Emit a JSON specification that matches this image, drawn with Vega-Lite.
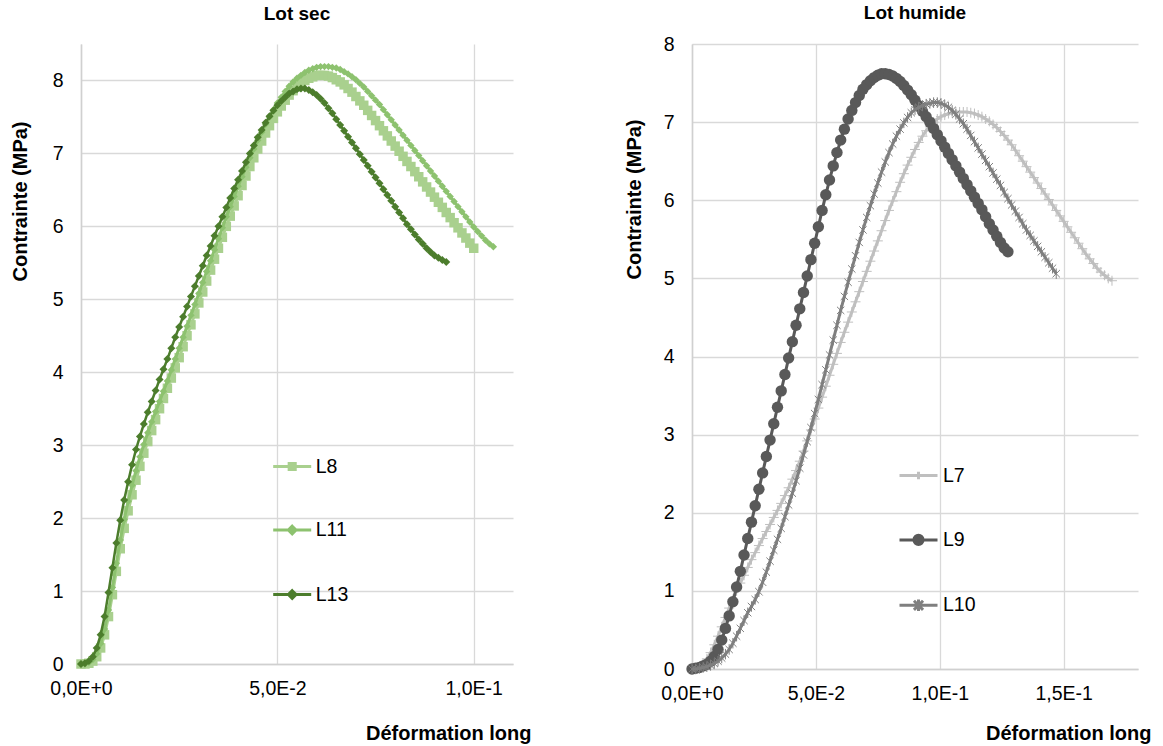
{
"$schema": "https://vega.github.io/schema/vega-lite/v6.json",
"background": "white",
"padding": {"left": 10, "top": 4, "right": 5, "bottom": 5},
"config": {
  "font": "Liberation Sans",
  "view": {"stroke": null},
  "axis": {"labelFont": "Liberation Sans", "labelFontSize": 19.5, "labelColor": "#000000", "titleFont": "Liberation Sans", "titleFontSize": 20, "titleFontWeight": "bold", "titleColor": "#000000", "gridColor": "#D9D9D9", "gridWidth": 1.3, "domainColor": "#D0D0D0", "domainWidth": 1.5, "ticks": false, "labelFlush": false},
  "title": {"font": "Liberation Sans", "fontSize": 19, "fontWeight": "bold", "color": "#000000", "anchor": "middle"},
  "concat": {"spacing": 93}
},
"resolve": {"scale": {"color": "independent"}},
"datasets": {
"L8": [{"x":0,"y":0},{"x":0.001,"y":0},{"x":0.002,"y":0.01},{"x":0.003,"y":0.04},{"x":0.004,"y":0.1},{"x":0.005,"y":0.22},{"x":0.006,"y":0.4},{"x":0.007,"y":0.65},{"x":0.008,"y":0.95},{"x":0.009,"y":1.27},{"x":0.01,"y":1.58},{"x":0.011,"y":1.86},{"x":0.012,"y":2.1},{"x":0.013,"y":2.32},{"x":0.014,"y":2.52},{"x":0.015,"y":2.71},{"x":0.016,"y":2.89},{"x":0.017,"y":3.05},{"x":0.018,"y":3.2},{"x":0.019,"y":3.35},{"x":0.02,"y":3.5},{"x":0.021,"y":3.64},{"x":0.022,"y":3.78},{"x":0.023,"y":3.92},{"x":0.024,"y":4.06},{"x":0.025,"y":4.2},{"x":0.026,"y":4.35},{"x":0.027,"y":4.5},{"x":0.028,"y":4.65},{"x":0.029,"y":4.8},{"x":0.03,"y":4.95},{"x":0.031,"y":5.1},{"x":0.032,"y":5.25},{"x":0.033,"y":5.4},{"x":0.034,"y":5.55},{"x":0.035,"y":5.7},{"x":0.036,"y":5.85},{"x":0.037,"y":6.0},{"x":0.038,"y":6.14},{"x":0.039,"y":6.28},{"x":0.04,"y":6.42},{"x":0.041,"y":6.56},{"x":0.042,"y":6.69},{"x":0.043,"y":6.82},{"x":0.044,"y":6.94},{"x":0.045,"y":7.06},{"x":0.046,"y":7.17},{"x":0.047,"y":7.28},{"x":0.048,"y":7.38},{"x":0.049,"y":7.48},{"x":0.05,"y":7.57},{"x":0.051,"y":7.65},{"x":0.052,"y":7.73},{"x":0.053,"y":7.8},{"x":0.054,"y":7.86},{"x":0.055,"y":7.91},{"x":0.056,"y":7.96},{"x":0.057,"y":8.0},{"x":0.058,"y":8.03},{"x":0.059,"y":8.05},{"x":0.06,"y":8.07},{"x":0.061,"y":8.07},{"x":0.062,"y":8.07},{"x":0.063,"y":8.06},{"x":0.064,"y":8.04},{"x":0.065,"y":8.01},{"x":0.066,"y":7.98},{"x":0.067,"y":7.94},{"x":0.068,"y":7.89},{"x":0.069,"y":7.84},{"x":0.07,"y":7.78},{"x":0.071,"y":7.72},{"x":0.072,"y":7.66},{"x":0.073,"y":7.59},{"x":0.074,"y":7.52},{"x":0.075,"y":7.45},{"x":0.076,"y":7.38},{"x":0.077,"y":7.31},{"x":0.078,"y":7.24},{"x":0.079,"y":7.17},{"x":0.08,"y":7.1},{"x":0.081,"y":7.03},{"x":0.082,"y":6.96},{"x":0.083,"y":6.89},{"x":0.084,"y":6.82},{"x":0.085,"y":6.75},{"x":0.086,"y":6.68},{"x":0.087,"y":6.61},{"x":0.088,"y":6.54},{"x":0.089,"y":6.47},{"x":0.09,"y":6.4},{"x":0.091,"y":6.33},{"x":0.092,"y":6.26},{"x":0.093,"y":6.19},{"x":0.094,"y":6.12},{"x":0.095,"y":6.05},{"x":0.096,"y":5.98},{"x":0.097,"y":5.91},{"x":0.098,"y":5.84},{"x":0.099,"y":5.77},{"x":0.1,"y":5.7}],
"L11": [{"x":0,"y":0},{"x":0.001,"y":0},{"x":0.002,"y":0.02},{"x":0.003,"y":0.06},{"x":0.004,"y":0.14},{"x":0.005,"y":0.28},{"x":0.006,"y":0.48},{"x":0.007,"y":0.74},{"x":0.008,"y":1.05},{"x":0.009,"y":1.38},{"x":0.01,"y":1.7},{"x":0.011,"y":1.98},{"x":0.012,"y":2.23},{"x":0.013,"y":2.45},{"x":0.014,"y":2.65},{"x":0.015,"y":2.84},{"x":0.016,"y":3.01},{"x":0.017,"y":3.17},{"x":0.018,"y":3.32},{"x":0.019,"y":3.46},{"x":0.02,"y":3.6},{"x":0.021,"y":3.74},{"x":0.022,"y":3.88},{"x":0.023,"y":4.03},{"x":0.024,"y":4.18},{"x":0.025,"y":4.33},{"x":0.026,"y":4.48},{"x":0.027,"y":4.63},{"x":0.028,"y":4.78},{"x":0.029,"y":4.93},{"x":0.03,"y":5.08},{"x":0.031,"y":5.23},{"x":0.032,"y":5.38},{"x":0.033,"y":5.53},{"x":0.034,"y":5.68},{"x":0.035,"y":5.83},{"x":0.036,"y":5.98},{"x":0.037,"y":6.13},{"x":0.038,"y":6.27},{"x":0.039,"y":6.41},{"x":0.04,"y":6.55},{"x":0.041,"y":6.68},{"x":0.042,"y":6.81},{"x":0.043,"y":6.94},{"x":0.044,"y":7.06},{"x":0.045,"y":7.18},{"x":0.046,"y":7.29},{"x":0.047,"y":7.4},{"x":0.048,"y":7.5},{"x":0.049,"y":7.6},{"x":0.05,"y":7.69},{"x":0.051,"y":7.77},{"x":0.052,"y":7.85},{"x":0.053,"y":7.92},{"x":0.054,"y":7.98},{"x":0.055,"y":8.03},{"x":0.056,"y":8.07},{"x":0.057,"y":8.11},{"x":0.058,"y":8.14},{"x":0.059,"y":8.16},{"x":0.06,"y":8.18},{"x":0.061,"y":8.19},{"x":0.062,"y":8.19},{"x":0.063,"y":8.19},{"x":0.064,"y":8.18},{"x":0.065,"y":8.17},{"x":0.066,"y":8.15},{"x":0.067,"y":8.12},{"x":0.068,"y":8.09},{"x":0.069,"y":8.05},{"x":0.07,"y":8.01},{"x":0.071,"y":7.96},{"x":0.072,"y":7.91},{"x":0.073,"y":7.85},{"x":0.074,"y":7.79},{"x":0.075,"y":7.73},{"x":0.076,"y":7.67},{"x":0.077,"y":7.6},{"x":0.078,"y":7.53},{"x":0.079,"y":7.46},{"x":0.08,"y":7.39},{"x":0.081,"y":7.32},{"x":0.082,"y":7.25},{"x":0.083,"y":7.18},{"x":0.084,"y":7.11},{"x":0.085,"y":7.04},{"x":0.086,"y":6.97},{"x":0.087,"y":6.9},{"x":0.088,"y":6.83},{"x":0.089,"y":6.76},{"x":0.09,"y":6.69},{"x":0.091,"y":6.62},{"x":0.092,"y":6.55},{"x":0.093,"y":6.48},{"x":0.094,"y":6.41},{"x":0.095,"y":6.34},{"x":0.096,"y":6.27},{"x":0.097,"y":6.2},{"x":0.098,"y":6.13},{"x":0.099,"y":6.06},{"x":0.1,"y":5.99},{"x":0.101,"y":5.93},{"x":0.102,"y":5.87},{"x":0.103,"y":5.81},{"x":0.104,"y":5.76},{"x":0.105,"y":5.72}],
"L13": [{"x":0,"y":0},{"x":0.001,"y":0.01},{"x":0.002,"y":0.04},{"x":0.003,"y":0.1},{"x":0.004,"y":0.22},{"x":0.005,"y":0.4},{"x":0.006,"y":0.65},{"x":0.007,"y":0.98},{"x":0.008,"y":1.32},{"x":0.009,"y":1.66},{"x":0.01,"y":1.97},{"x":0.011,"y":2.25},{"x":0.012,"y":2.5},{"x":0.013,"y":2.73},{"x":0.014,"y":2.94},{"x":0.015,"y":3.12},{"x":0.016,"y":3.29},{"x":0.017,"y":3.45},{"x":0.018,"y":3.6},{"x":0.019,"y":3.75},{"x":0.02,"y":3.9},{"x":0.021,"y":4.04},{"x":0.022,"y":4.18},{"x":0.023,"y":4.33},{"x":0.024,"y":4.48},{"x":0.025,"y":4.62},{"x":0.026,"y":4.76},{"x":0.027,"y":4.9},{"x":0.028,"y":5.04},{"x":0.029,"y":5.18},{"x":0.03,"y":5.32},{"x":0.031,"y":5.46},{"x":0.032,"y":5.6},{"x":0.033,"y":5.73},{"x":0.034,"y":5.87},{"x":0.035,"y":6.0},{"x":0.036,"y":6.13},{"x":0.037,"y":6.26},{"x":0.038,"y":6.39},{"x":0.039,"y":6.52},{"x":0.04,"y":6.64},{"x":0.041,"y":6.76},{"x":0.042,"y":6.88},{"x":0.043,"y":7.0},{"x":0.044,"y":7.11},{"x":0.045,"y":7.22},{"x":0.046,"y":7.32},{"x":0.047,"y":7.42},{"x":0.048,"y":7.51},{"x":0.049,"y":7.59},{"x":0.05,"y":7.66},{"x":0.051,"y":7.72},{"x":0.052,"y":7.77},{"x":0.053,"y":7.82},{"x":0.054,"y":7.85},{"x":0.055,"y":7.88},{"x":0.056,"y":7.89},{"x":0.057,"y":7.89},{"x":0.058,"y":7.87},{"x":0.059,"y":7.84},{"x":0.06,"y":7.8},{"x":0.061,"y":7.75},{"x":0.062,"y":7.69},{"x":0.063,"y":7.62},{"x":0.064,"y":7.55},{"x":0.065,"y":7.47},{"x":0.066,"y":7.39},{"x":0.067,"y":7.31},{"x":0.068,"y":7.23},{"x":0.069,"y":7.15},{"x":0.07,"y":7.07},{"x":0.071,"y":6.99},{"x":0.072,"y":6.91},{"x":0.073,"y":6.83},{"x":0.074,"y":6.75},{"x":0.075,"y":6.67},{"x":0.076,"y":6.59},{"x":0.077,"y":6.51},{"x":0.078,"y":6.43},{"x":0.079,"y":6.35},{"x":0.08,"y":6.27},{"x":0.081,"y":6.19},{"x":0.082,"y":6.11},{"x":0.083,"y":6.03},{"x":0.084,"y":5.96},{"x":0.085,"y":5.89},{"x":0.086,"y":5.82},{"x":0.087,"y":5.76},{"x":0.088,"y":5.7},{"x":0.089,"y":5.65},{"x":0.09,"y":5.6},{"x":0.091,"y":5.57},{"x":0.092,"y":5.54},{"x":0.093,"y":5.51}],
"L7": [{"x":0,"y":0},{"x":0.0015,"y":0.01},{"x":0.003,"y":0.03},{"x":0.0045,"y":0.07},{"x":0.006,"y":0.13},{"x":0.0075,"y":0.21},{"x":0.009,"y":0.31},{"x":0.0105,"y":0.42},{"x":0.012,"y":0.54},{"x":0.0135,"y":0.66},{"x":0.015,"y":0.78},{"x":0.0165,"y":0.89},{"x":0.018,"y":1.0},{"x":0.0195,"y":1.1},{"x":0.021,"y":1.2},{"x":0.0225,"y":1.3},{"x":0.024,"y":1.4},{"x":0.0255,"y":1.49},{"x":0.027,"y":1.58},{"x":0.0285,"y":1.67},{"x":0.03,"y":1.76},{"x":0.0315,"y":1.85},{"x":0.033,"y":1.94},{"x":0.0345,"y":2.03},{"x":0.036,"y":2.12},{"x":0.0375,"y":2.22},{"x":0.039,"y":2.32},{"x":0.0405,"y":2.43},{"x":0.042,"y":2.54},{"x":0.0435,"y":2.66},{"x":0.045,"y":2.79},{"x":0.0465,"y":2.92},{"x":0.048,"y":3.06},{"x":0.0495,"y":3.2},{"x":0.051,"y":3.34},{"x":0.0525,"y":3.48},{"x":0.054,"y":3.62},{"x":0.0555,"y":3.76},{"x":0.057,"y":3.9},{"x":0.0585,"y":4.04},{"x":0.06,"y":4.18},{"x":0.0615,"y":4.31},{"x":0.063,"y":4.44},{"x":0.0645,"y":4.57},{"x":0.066,"y":4.7},{"x":0.0675,"y":4.83},{"x":0.069,"y":4.96},{"x":0.0705,"y":5.09},{"x":0.072,"y":5.22},{"x":0.0735,"y":5.35},{"x":0.075,"y":5.48},{"x":0.0765,"y":5.61},{"x":0.078,"y":5.74},{"x":0.0795,"y":5.87},{"x":0.081,"y":5.99},{"x":0.0825,"y":6.11},{"x":0.084,"y":6.23},{"x":0.0855,"y":6.34},{"x":0.087,"y":6.45},{"x":0.0885,"y":6.55},{"x":0.09,"y":6.65},{"x":0.0915,"y":6.74},{"x":0.093,"y":6.82},{"x":0.0945,"y":6.89},{"x":0.096,"y":6.95},{"x":0.0975,"y":7.0},{"x":0.099,"y":7.04},{"x":0.1005,"y":7.07},{"x":0.102,"y":7.09},{"x":0.1035,"y":7.11},{"x":0.105,"y":7.12},{"x":0.1065,"y":7.13},{"x":0.108,"y":7.13},{"x":0.1095,"y":7.13},{"x":0.111,"y":7.13},{"x":0.1125,"y":7.12},{"x":0.114,"y":7.11},{"x":0.1155,"y":7.09},{"x":0.117,"y":7.07},{"x":0.1185,"y":7.04},{"x":0.12,"y":7.01},{"x":0.1215,"y":6.97},{"x":0.123,"y":6.93},{"x":0.1245,"y":6.88},{"x":0.126,"y":6.83},{"x":0.1275,"y":6.77},{"x":0.129,"y":6.71},{"x":0.1305,"y":6.64},{"x":0.132,"y":6.57},{"x":0.1335,"y":6.5},{"x":0.135,"y":6.43},{"x":0.1365,"y":6.36},{"x":0.138,"y":6.29},{"x":0.1395,"y":6.22},{"x":0.141,"y":6.15},{"x":0.1425,"y":6.08},{"x":0.144,"y":6.01},{"x":0.1455,"y":5.94},{"x":0.147,"y":5.87},{"x":0.1485,"y":5.8},{"x":0.15,"y":5.73},{"x":0.1515,"y":5.66},{"x":0.153,"y":5.59},{"x":0.1545,"y":5.52},{"x":0.156,"y":5.45},{"x":0.1575,"y":5.38},{"x":0.159,"y":5.31},{"x":0.1605,"y":5.25},{"x":0.162,"y":5.19},{"x":0.1635,"y":5.13},{"x":0.165,"y":5.08},{"x":0.1665,"y":5.04},{"x":0.168,"y":5.0},{"x":0.1695,"y":4.97}],
"L9": [{"x":0,"y":0},{"x":0.0015,"y":0.01},{"x":0.003,"y":0.02},{"x":0.0045,"y":0.04},{"x":0.006,"y":0.06},{"x":0.0075,"y":0.1},{"x":0.009,"y":0.16},{"x":0.0105,"y":0.25},{"x":0.012,"y":0.37},{"x":0.0135,"y":0.52},{"x":0.015,"y":0.68},{"x":0.0165,"y":0.86},{"x":0.018,"y":1.05},{"x":0.0195,"y":1.25},{"x":0.021,"y":1.46},{"x":0.0225,"y":1.67},{"x":0.024,"y":1.88},{"x":0.0255,"y":2.09},{"x":0.027,"y":2.3},{"x":0.0285,"y":2.51},{"x":0.03,"y":2.72},{"x":0.0315,"y":2.93},{"x":0.033,"y":3.14},{"x":0.0345,"y":3.35},{"x":0.036,"y":3.56},{"x":0.0375,"y":3.77},{"x":0.039,"y":3.98},{"x":0.0405,"y":4.19},{"x":0.042,"y":4.4},{"x":0.0435,"y":4.61},{"x":0.045,"y":4.82},{"x":0.0465,"y":5.03},{"x":0.048,"y":5.24},{"x":0.0495,"y":5.45},{"x":0.051,"y":5.66},{"x":0.0525,"y":5.87},{"x":0.054,"y":6.07},{"x":0.0555,"y":6.26},{"x":0.057,"y":6.44},{"x":0.0585,"y":6.61},{"x":0.06,"y":6.77},{"x":0.0615,"y":6.91},{"x":0.063,"y":7.04},{"x":0.0645,"y":7.15},{"x":0.066,"y":7.25},{"x":0.0675,"y":7.34},{"x":0.069,"y":7.42},{"x":0.0705,"y":7.48},{"x":0.072,"y":7.53},{"x":0.0735,"y":7.57},{"x":0.075,"y":7.6},{"x":0.0765,"y":7.62},{"x":0.078,"y":7.62},{"x":0.0795,"y":7.61},{"x":0.081,"y":7.59},{"x":0.0825,"y":7.56},{"x":0.084,"y":7.52},{"x":0.0855,"y":7.47},{"x":0.087,"y":7.41},{"x":0.0885,"y":7.35},{"x":0.09,"y":7.28},{"x":0.0915,"y":7.21},{"x":0.093,"y":7.14},{"x":0.0945,"y":7.07},{"x":0.096,"y":7.0},{"x":0.0975,"y":6.92},{"x":0.099,"y":6.84},{"x":0.1005,"y":6.76},{"x":0.102,"y":6.68},{"x":0.1035,"y":6.6},{"x":0.105,"y":6.52},{"x":0.1065,"y":6.44},{"x":0.108,"y":6.36},{"x":0.1095,"y":6.28},{"x":0.111,"y":6.2},{"x":0.1125,"y":6.12},{"x":0.114,"y":6.04},{"x":0.1155,"y":5.96},{"x":0.117,"y":5.88},{"x":0.1185,"y":5.79},{"x":0.12,"y":5.7},{"x":0.1215,"y":5.62},{"x":0.123,"y":5.54},{"x":0.1245,"y":5.46},{"x":0.126,"y":5.39},{"x":0.1275,"y":5.34}],
"L10": [{"x":0,"y":0},{"x":0.0015,"y":0},{"x":0.003,"y":0.01},{"x":0.0045,"y":0.02},{"x":0.006,"y":0.03},{"x":0.0075,"y":0.05},{"x":0.009,"y":0.07},{"x":0.0105,"y":0.1},{"x":0.012,"y":0.14},{"x":0.0135,"y":0.19},{"x":0.015,"y":0.25},{"x":0.0165,"y":0.33},{"x":0.018,"y":0.42},{"x":0.0195,"y":0.52},{"x":0.021,"y":0.62},{"x":0.0225,"y":0.72},{"x":0.024,"y":0.8},{"x":0.0255,"y":0.89},{"x":0.027,"y":0.99},{"x":0.0285,"y":1.11},{"x":0.03,"y":1.24},{"x":0.0315,"y":1.38},{"x":0.033,"y":1.52},{"x":0.0345,"y":1.66},{"x":0.036,"y":1.8},{"x":0.0375,"y":1.95},{"x":0.039,"y":2.1},{"x":0.0405,"y":2.25},{"x":0.042,"y":2.41},{"x":0.0435,"y":2.57},{"x":0.045,"y":2.74},{"x":0.0465,"y":2.91},{"x":0.048,"y":3.09},{"x":0.0495,"y":3.27},{"x":0.051,"y":3.45},{"x":0.0525,"y":3.64},{"x":0.054,"y":3.83},{"x":0.0555,"y":4.02},{"x":0.057,"y":4.21},{"x":0.0585,"y":4.4},{"x":0.06,"y":4.59},{"x":0.0615,"y":4.77},{"x":0.063,"y":4.95},{"x":0.0645,"y":5.12},{"x":0.066,"y":5.29},{"x":0.0675,"y":5.46},{"x":0.069,"y":5.62},{"x":0.0705,"y":5.78},{"x":0.072,"y":5.93},{"x":0.0735,"y":6.08},{"x":0.075,"y":6.22},{"x":0.0765,"y":6.36},{"x":0.078,"y":6.49},{"x":0.0795,"y":6.61},{"x":0.081,"y":6.72},{"x":0.0825,"y":6.82},{"x":0.084,"y":6.91},{"x":0.0855,"y":6.99},{"x":0.087,"y":7.06},{"x":0.0885,"y":7.12},{"x":0.09,"y":7.16},{"x":0.0915,"y":7.19},{"x":0.093,"y":7.21},{"x":0.0945,"y":7.23},{"x":0.096,"y":7.24},{"x":0.0975,"y":7.25},{"x":0.099,"y":7.25},{"x":0.1005,"y":7.24},{"x":0.102,"y":7.22},{"x":0.1035,"y":7.19},{"x":0.105,"y":7.15},{"x":0.1065,"y":7.1},{"x":0.108,"y":7.04},{"x":0.1095,"y":6.98},{"x":0.111,"y":6.91},{"x":0.1125,"y":6.83},{"x":0.114,"y":6.75},{"x":0.1155,"y":6.67},{"x":0.117,"y":6.59},{"x":0.1185,"y":6.51},{"x":0.12,"y":6.43},{"x":0.1215,"y":6.35},{"x":0.123,"y":6.27},{"x":0.1245,"y":6.19},{"x":0.126,"y":6.1},{"x":0.1275,"y":6.02},{"x":0.129,"y":5.94},{"x":0.1305,"y":5.86},{"x":0.132,"y":5.78},{"x":0.1335,"y":5.7},{"x":0.135,"y":5.62},{"x":0.1365,"y":5.55},{"x":0.138,"y":5.48},{"x":0.1395,"y":5.41},{"x":0.141,"y":5.34},{"x":0.1425,"y":5.27},{"x":0.144,"y":5.2},{"x":0.1455,"y":5.13},{"x":0.147,"y":5.06}]
},
"hconcat": [
{
  "width": 432, "height": 620,
  "title": {"text": "Lot sec", "offset": 20.4},
  "encoding": {
    "x": {"field": "x", "type": "quantitative", "scale": {"domain": [0, 0.11], "nice": false}, "axis": {"values": [0, 0.05, 0.1], "labelExpr": "datum.value == 0 ? '0,0E+0' : datum.value < 0.07 ? '5,0E-2' : datum.value < 0.12 ? '1,0E-1' : '1,5E-1'", "labelPadding": 15, "title": "Déformation long", "titleX": 450, "titleY": 69, "titleAlign": "right", "titleBaseline": "middle"}},
    "y": {"field": "y", "type": "quantitative", "scale": {"domain": [0, 8.5], "nice": false}, "axis": {"values": [0, 1, 2, 3, 4, 5, 6, 7, 8], "format": "d", "labelPadding": 18, "title": "Contrainte (MPa)", "titleX": -61, "titleY": 157, "titleAlign": "center", "titleBaseline": "middle", "titleAngle": 270}}
  },
  "layer": [
    {"data": {"name": "L8"}, "mark": {"type": "line", "strokeWidth": 3, "point": {"shape": "square", "size": 90, "filled": true}},
     "encoding": {"color": {"datum": "L8", "scale": {"domain": ["L8", "L11", "L13"], "range": ["#A9D08E", "#8DC26F", "#4C7D2C"]},
       "legend": {"orient": "none", "legendX": 190.7, "legendY": 402, "title": null, "padding": 0, "rowPadding": 33.5, "symbolSize": 1444, "symbolStrokeWidth": 3, "labelOffset": 3, "labelFontSize": 19.5, "labelFont": "Liberation Sans", "labelColor": "#000000",
         "encode": {"symbols": {"update": {
           "shape": {"signal": "datum.value === 'L8' ? 'M-1,0H1M-0.16,-0.16H0.16V0.16H-0.16Z' : 'M-1,0H1M0,-0.2L0.2,0L0,0.2L-0.2,0Z'"},
           "fill": {"signal": "datum.value === 'L8' ? '#A9D08E' : datum.value === 'L11' ? '#8DC26F' : '#4C7D2C'"},
           "stroke": {"signal": "datum.value === 'L8' ? '#A9D08E' : datum.value === 'L11' ? '#8DC26F' : '#4C7D2C'"},
           "strokeWidth": {"value": 3}, "opacity": {"value": 1}}}}}}}},
    {"data": {"name": "L11"}, "mark": {"type": "line", "strokeWidth": 3, "point": {"shape": "diamond", "size": 55, "filled": true}},
     "encoding": {"color": {"datum": "L11"}}},
    {"data": {"name": "L13"}, "mark": {"type": "line", "strokeWidth": 2.5, "point": {"shape": "diamond", "size": 64, "filled": true}},
     "encoding": {"color": {"datum": "L13"}}}
  ]
},
{
  "width": 446, "height": 625,
  "title": {"text": "Lot humide", "offset": 11},
  "encoding": {
    "x": {"field": "x", "type": "quantitative", "scale": {"domain": [0, 0.18], "nice": false}, "axis": {"values": [0, 0.05, 0.1, 0.15], "labelExpr": "datum.value == 0 ? '0,0E+0' : datum.value < 0.07 ? '5,0E-2' : datum.value < 0.12 ? '1,0E-1' : '1,5E-1'", "labelPadding": 15, "title": "Déformation long", "titleX": 459, "titleY": 64, "titleAlign": "right", "titleBaseline": "middle"}},
    "y": {"field": "y", "type": "quantitative", "scale": {"domain": [0, 8], "nice": false}, "axis": {"values": [0, 1, 2, 3, 4, 5, 6, 7, 8], "format": "d", "labelPadding": 18, "title": "Contrainte (MPa)", "titleX": -58, "titleY": 155, "titleAlign": "center", "titleBaseline": "middle", "titleAngle": 270}}
  },
  "layer": [
    {"data": {"name": "L7"}, "mark": {"type": "line", "strokeWidth": 3, "point": {"shape": "M-1,0H1M0,-1V1", "size": 100, "filled": false, "strokeWidth": 1}},
     "encoding": {"color": {"datum": "L7", "scale": {"domain": ["L7", "L9", "L10"], "range": ["#BFBFBF", "#595959", "#7F7F7F"]},
       "legend": {"orient": "none", "legendX": 206, "legendY": 411, "title": null, "padding": 0, "rowPadding": 33.4, "symbolSize": 1444, "symbolStrokeWidth": 3, "labelOffset": 4, "labelFontSize": 19.5, "labelFont": "Liberation Sans", "labelColor": "#000000",
         "encode": {"symbols": {"update": {
           "shape": {"signal": "datum.value === 'L7' ? 'M-1,0H1M0,-0.2V0.2' : datum.value === 'L9' ? 'M-1,0H1M-0.24,0A0.24,0.24,0,1,1,0.24,0A0.24,0.24,0,1,1,-0.24,0Z' : 'M-1,0H1M-0.24,-0.24L0.24,0.24M-0.24,0.24L0.24,-0.24M0,-0.3V0.3'"},
           "fill": {"signal": "datum.value === 'L9' ? '#595959' : 'transparent'"},
           "stroke": {"signal": "datum.value === 'L7' ? '#BFBFBF' : datum.value === 'L9' ? '#595959' : '#7F7F7F'"},
           "strokeWidth": {"value": 3}, "opacity": {"value": 1}}}}}}}},
    {"data": {"name": "L9"}, "mark": {"type": "line", "strokeWidth": 3, "point": {"shape": "circle", "size": 130, "filled": true}},
     "encoding": {"color": {"datum": "L9"}}},
    {"data": {"name": "L10"}, "mark": {"type": "line", "strokeWidth": 3, "point": {"shape": "M-0.7,-0.7L0.7,0.7M-0.7,0.7L0.7,-0.7M0,-1V1", "size": 110, "filled": false, "strokeWidth": 1}},
     "encoding": {"color": {"datum": "L10"}}}
  ]
}
]
}
